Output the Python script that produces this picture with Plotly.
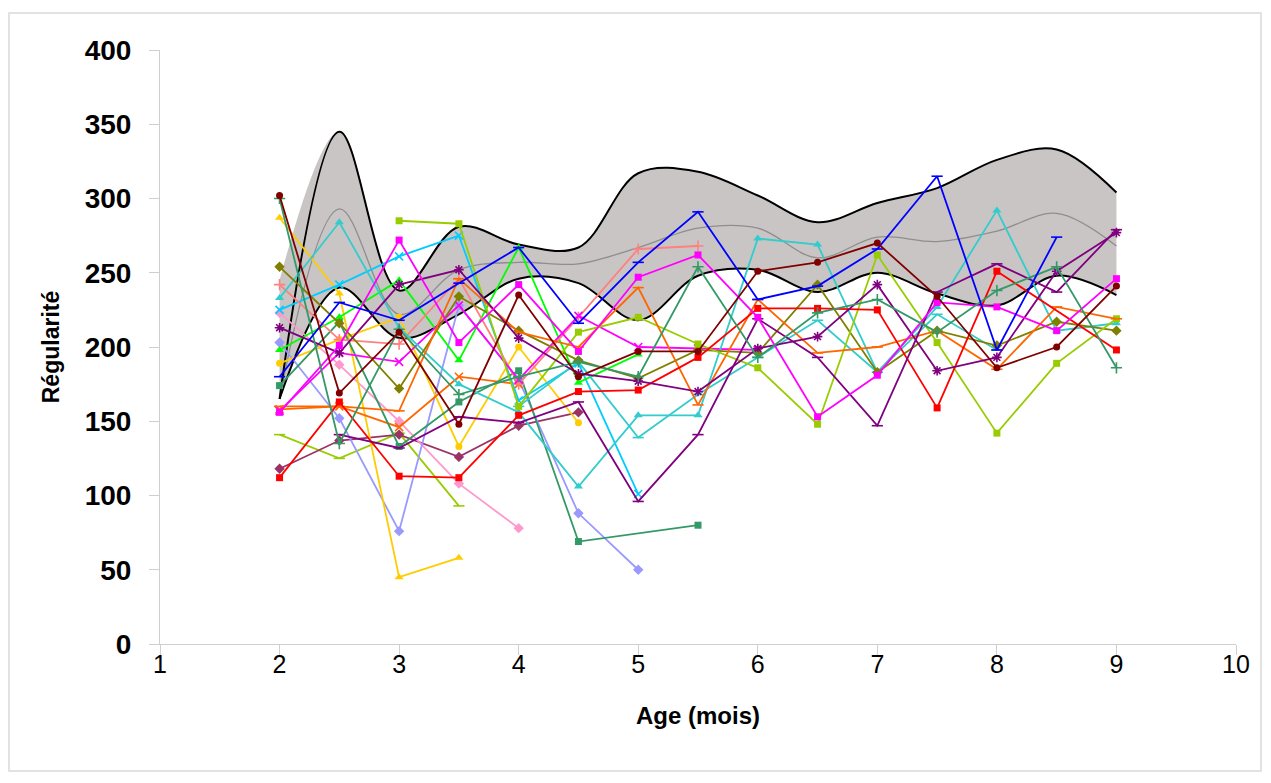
import plotly.graph_objects as go

N = None
# ---------------- data ----------------
AGE = [2, 2.5, 3, 3.5, 4, 4.5, 5, 5.5, 6, 6.5, 7, 7.5, 8, 8.5, 9]
X_TICKS = [1, 2, 3, 4, 5, 6, 7, 8, 9, 10]
Y_TICKS = [0, 50, 100, 150, 200, 250, 300, 350, 400]

BAND_UPPER = [165, 345, 238, 281, 269, 267, 317, 318, 302, 284, 297, 307, 326, 333, 304]
BAND_UPPER_FILL = [245, 345, 238, 281, 269, 267, 317, 318, 302, 284, 297, 307, 326, 333, 304]
BAND_LOWER = [165, 240, 206, 222, 246, 243, 218, 248, 252, 237, 250, 236, 228, 248, 235]
BAND_MEAN = [165, 293, 222, 252, 257, 256, 267, 280, 280, 260, 274, 271, 278, 290, 268]

maroon_circle = [302, 169, 210, 148, 235, 180, 197, 197, 251, 257, 270, 234, 186, 200, 241]
seagreen_plus = [300, 135, 212, 168, 180, 190, 180, 254, 193, 223, 232, 210, 238, 254, 186]
gold_triangle = [287, 236, 45, 58]
olive_diamond = [254, 216, 172, 234, 211, 191, 179, 198, 196, 242, 183, 211, 201, 217, 211]
salmon_plus = [242, 205, 202, 246, 175, 220, 266, 268]
teal_triangle = [233, 284, 213, 175, 156, 106, 154, 154, 273, 269, 183, 227, 292, 211, 216]
pink_diamond = [223, 188, 150, 108, 78]
purple_star = [213, 196, 242, 252, 206, 182, 177, 170, 199, 207, 242, 184, 193, 251, 277]
lavender_diamond = [203, 152, 76, 228, 178, 88, 50]
lime_triangle = [198, 220, 245, 191, 267, 176, 195]
yellow_circle = [189, 205, 220, 133, 200, 149]
blue_dash = [180, 230, 218, 243, 267, 216, 257, 291, 232, 241, 266, 315, 198, 274]
seagreen_square = [174, 217, 133, 163, 184, 69, N, 80]
orange_dash = [160, 160, 157, 246, 210, 200, 240, 161, 232, 196, 200, 211, 185, 227, 219]
orange_x = [158, 160, 146, 180, 175]
magenta_square = [156, 201, 272, 203, 242, 197, 247, 262, 220, 153, 181, 230, 227, 211, 246]
magenta_x = [157, 196, 190, 228, 178, 221, 200, 199, 198]
yellowgreen_line = [141, 125, 142, 93]
yellowgreen_square = [N, N, 285, 283, 160, 210, 220, 202, 186, 148, 262, 203, 142, 189, 219]
plum_diamond = [118, 137, 141, 126, 147, 156]
purple_dash = [N, 141, 132, 153, 149, 163, 96, 141, 219, 193, 147, 237, 256, 237, 279]
red_square = [112, 163, 113, 112, 154, 170, 171, 193, 226, 226, 225, 159, 251, N, 198]
cyan_x = [225, 242, 261, 275, 164, 189, 101]
teal_dash = [N, N, N, N, 160, 190, 139, 168, 193, 218, 183, 222, 198]

# ---------------- styles ----------------
SERIES = [
    (yellowgreen_line, "#99CC00", "line-ew-open"),
    (plum_diamond, "#993366", "diamond"),
    (pink_diamond, "#FF99CC", "diamond"),
    (lavender_diamond, "#9999FF", "diamond"),
    (gold_triangle, "#FFCC00", "triangle-up"),
    (yellow_circle, "#FFCC00", "circle"),
    (orange_x, "#FF6600", "x-thin-open"),
    (cyan_x, "#00CCFF", "x-thin-open"),
    (seagreen_square, "#339966", "square"),
    (lime_triangle, "#00FF00", "triangle-up"),
    (salmon_plus, "#FF8080", "cross-thin-open"),
    (magenta_x, "#FF00FF", "x-thin-open"),
    (teal_dash, "#33CCCC", "line-ew-open"),
    (teal_triangle, "#33CCCC", "triangle-up"),
    (olive_diamond, "#808000", "diamond"),
    (yellowgreen_square, "#99CC00", "square"),
    (orange_dash, "#FF6600", "line-ew-open"),
    (red_square, "#FF0000", "square"),
    (purple_dash, "#800080", "line-ew-open"),
    (purple_star, "#800080", "asterisk-open"),
    (magenta_square, "#FF00FF", "square"),
    (seagreen_plus, "#339966", "cross-thin-open"),
    (blue_dash, "#0000FF", "line-ew-open"),
    (maroon_circle, "#800000", "circle"),
]

fig = go.Figure()

# band
fig.add_trace(go.Scatter(x=AGE, y=BAND_LOWER, mode="lines",
                         line=dict(shape="spline", width=0, color="rgba(0,0,0,0)"),
                         hoverinfo="skip", showlegend=False))
fig.add_trace(go.Scatter(x=AGE, y=BAND_UPPER_FILL, mode="lines", fill="tonexty",
                         fillcolor="#C9C5C5",
                         line=dict(shape="spline", width=0, color="rgba(0,0,0,0)"),
                         hoverinfo="skip", showlegend=False))
fig.add_trace(go.Scatter(x=AGE, y=BAND_MEAN, mode="lines",
                         line=dict(shape="spline", width=1.3, color="#8E8E8E"),
                         showlegend=False))
fig.add_trace(go.Scatter(x=AGE, y=BAND_UPPER, mode="lines",
                         line=dict(shape="spline", width=2, color="#000000"),
                         showlegend=False))
fig.add_trace(go.Scatter(x=AGE, y=BAND_LOWER, mode="lines",
                         line=dict(shape="spline", width=2, color="#000000"),
                         showlegend=False))

for vals, color, sym in SERIES:
    xs = AGE[:len(vals)]
    is_open = sym.endswith("open")
    size = 8 if sym in ("triangle-up", "diamond") else 7
    if is_open:
        size = 8
    fig.add_trace(go.Scatter(
        x=xs, y=vals, mode="lines+markers", connectgaps=True,
        line=dict(color=color, width=1.8),
        marker=dict(symbol=sym, size=size, color=color,
                    line=dict(color=color, width=1.6 if is_open else 0)),
        showlegend=False))

FONT = "Arial, Liberation Sans, sans-serif"
fig.update_layout(
    width=1255, height=767,
    margin=dict(l=152, r=27, t=42, b=131),
    paper_bgcolor="white", plot_bgcolor="white",
    showlegend=False,
    xaxis=dict(range=[1, 10], tickvals=X_TICKS, ticktext=[str(v) for v in X_TICKS],
               showgrid=False, zeroline=False, showline=True, linecolor="#CFCFCF", linewidth=1,
               ticks="outside", ticklen=10, tickcolor="#CFCFCF",
               ticklabelstandoff=-12,
               tickfont=dict(family=FONT, size=25, color="black"),
               title=dict(text="<b>Age (mois)</b>", font=dict(family=FONT, size=24, color="black"),
                          standoff=30)),
    yaxis=dict(range=[0, 400], tickvals=Y_TICKS, ticktext=["<b>%d</b>" % v for v in Y_TICKS],
               showgrid=False, zeroline=False, showline=True, linecolor="#CFCFCF", linewidth=1,
               ticks="outside", ticklen=10, tickcolor="#CFCFCF",
               ticklabelstandoff=12,
               tickfont=dict(family=FONT, size=28, color="black"),
               title=dict(text="<b>Régularité</b>", font=dict(family=FONT, size=23, color="black"),
                          standoff=18)),
)

# chart-area border (page coordinates converted to paper fractions)
fig.add_shape(type="rect", xref="paper", yref="paper",
              x0=(9 - 160) / 1076, x1=(1261 - 160) / 1076,
              y0=(644 - 771) / 594, y1=(644 - 13) / 594,
              line=dict(color="#D9D9D9", width=1.5), fillcolor="rgba(0,0,0,0)", layer="below")

fig.write_html("out.html")
